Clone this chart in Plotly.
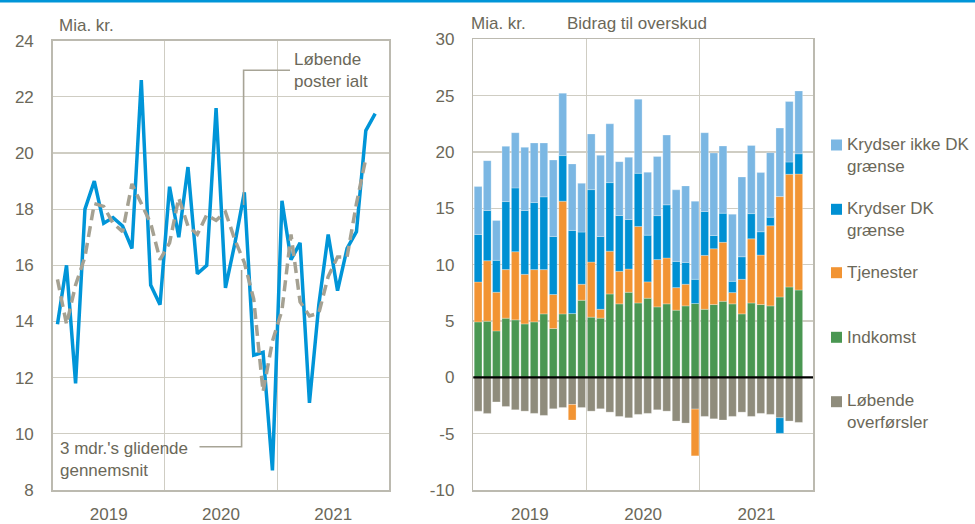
import plotly.graph_objects as go

# ---------------- data ----------------
months = ["2019-01", "2019-02", "2019-03", "2019-04", "2019-05", "2019-06",
          "2019-07", "2019-08", "2019-09", "2019-10", "2019-11", "2019-12",
          "2020-01", "2020-02", "2020-03", "2020-04", "2020-05", "2020-06",
          "2020-07", "2020-08", "2020-09", "2020-10", "2020-11", "2020-12",
          "2021-01", "2021-02", "2021-03", "2021-04", "2021-05", "2021-06",
          "2021-07", "2021-08", "2021-09", "2021-10", "2021-11"]

# Left panel: current account total and 3-month centred moving average (bn DKK)
loebende_poster_ialt = [13.9, 16.0, 11.8, 18.0, 19.0, 17.5, 17.7, 17.4, 16.6, 22.6, 15.3, 14.6,
                        18.8, 17.0, 19.5, 15.7, 16.0, 21.6, 15.2, 16.8, 18.6, 12.8, 12.9, 8.7,
                        18.3, 16.2, 16.8, 11.1, 14.6, 17.1, 15.1, 16.6, 17.2, 20.8, 21.4]
glidende_gns = [15.5, 13.9, 15.3, 16.3, 18.2, 18.1, 17.5, 17.2, 18.9, 18.2, 17.5, 16.2,
                16.8, 18.4, 17.4, 17.1, 17.8, 17.6, 17.9, 16.9, 16.1, 14.8, 11.5, 13.3,
                14.4, 17.1, 14.7, 14.2, 14.3, 15.6, 16.3, 16.3, 18.2, 19.8]

# Right panel: contributions to surplus (bn DKK)
indkomst = [4.92, 4.98, 4.12, 5.25, 5.10, 4.74, 4.92, 5.63, 4.33, 5.63, 5.66, 6.84,
            5.34, 5.25, 7.40, 6.52, 7.55, 6.60, 7.02, 6.25, 6.52, 5.96, 6.34, 6.55,
            6.04, 6.46, 6.75, 6.52, 5.63, 6.60, 6.46, 6.34, 7.13, 8.02, 7.75]
tjenester = [3.54, 5.37, 3.43, 4.31, 6.05, 4.40, 4.64, 3.93, 3.02, 10.00, -1.38, 1.42,
             4.89, 0.79, 3.80, 2.89, 2.06, 6.79, 1.45, 4.20, 4.07, 2.00, 1.92, -4.15,
             4.78, 4.95, 5.23, 1.00, 3.07, 5.69, 4.39, 7.11, 8.91, 10.00, 10.29]
krydser_dk = [4.22, 4.46, 2.83, 6.04, 5.66, 5.67, 5.95, 6.46, 5.15, 4.05, 7.38, 4.63,
              6.43, 6.46, 6.08, 4.95, 4.40, 4.72, 4.15, 3.90, 4.72, 2.33, 1.94, 2.15,
              3.90, 1.18, 2.59, 1.00, 2.00, 2.24, 2.07, 0.76, -1.38, 1.09, 1.80]
krydser_ikke_dk = [4.25, 4.42, 3.54, 4.90, 4.90, 5.60, 5.29, 4.78, 6.79, 5.54, 5.90, 4.33,
                   4.94, 7.20, 5.22, 4.78, 5.52, 6.58, 5.58, 5.25, 6.19, 6.35, 6.79, 6.93,
                   6.99, 7.32, 5.96, 5.96, 7.08, 6.05, 5.25, 5.73, 6.08, 5.37, 5.58]
loebende_overfoersler = [-3.00, -3.20, -2.18, -2.59, -2.88, -3.00, -3.20, -3.38, -2.79, -2.68, -2.41, -2.68,
                         -3.00, -2.79, -3.09, -3.47, -3.59, -3.29, -3.20, -2.88, -3.00, -3.88, -4.06, -2.82,
                         -3.47, -3.68, -3.79, -3.47, -3.09, -3.47, -3.20, -3.29, -3.59, -3.88, -4.00]

series_names = ["Krydser ikke DK<br>grænse", "Krydser DK<br>grænse", "Tjenester",
                "Indkomst", "Løbende<br>overførsler"]

# tick labels
left_ticks = [8, 10, 12, 14, 16, 18, 20, 22, 24]
right_ticks = [-10, -5, 0, 5, 10, 15, 20, 25, 30]
right_tick_labels = ["-10", "-5", "0", "5", "10", "15", "20", "25", "30"]

# ---------------- styles ----------------
W, H = 975, 524
FONT = "Liberation Sans, Arial, sans-serif"
TXT = "#6b6859"
GRID = "#cfcdc3"
FRAME = "#bcbab0"
C_LIGHT = "#7bb7e3"
C_DARK = "#0090d3"
C_ORANGE = "#f29433"
C_GREEN = "#4a9752"
C_GREY = "#8f8c7c"
C_LINE = "#0095d8"
C_DASH = "#a5a192"
colors = [C_LIGHT, C_DARK, C_ORANGE, C_GREEN, C_GREY]


def px(x):
    return x / W


def py(y):
    return 1 - y / H


fig = go.Figure()

# left panel lines
fig.add_trace(go.Scatter(x=months, y=loebende_poster_ialt, mode="lines",
                         line=dict(color=C_LINE, width=3.5),
                         xperiod="M1", xperiodalignment="middle",
                         xaxis="x", yaxis="y", showlegend=False))
fig.add_trace(go.Scatter(x=months[:len(glidende_gns)], y=glidende_gns, mode="lines",
                         line=dict(color=C_DASH, width=3.5, dash="11px,6px"),
                         xperiod="M1", xperiodalignment="middle",
                         xaxis="x", yaxis="y", showlegend=False))

# right panel bars (order so that relative stacking matches reference)
bar_series = [
    (loebende_overfoersler, C_GREY),
    (indkomst, C_GREEN),
    (tjenester, C_ORANGE),
    (krydser_dk, C_DARK),
    (krydser_ikke_dk, C_LIGHT),
]
for vals, col in bar_series:
    fig.add_trace(go.Bar(x=months, y=vals,
                         marker=dict(color=col, line=dict(color="rgba(255,255,255,0.45)", width=0.6)),
                         xperiod="M1", xperiodalignment="middle",
                         xaxis="x2", yaxis="y2", showlegend=False))

xcommon = dict(type="date", range=["2019-01-01", "2022-01-01"], dtick="M12",
               tick0="2019-01-01", ticklabelmode="period", tickformat="%Y",
               showgrid=True, gridcolor=GRID, gridwidth=1.2,
               ticks="outside", ticklen=8, tickcolor="rgba(0,0,0,0)",
               showline=True, mirror=True, linecolor=FRAME, linewidth=1.5,
               tickfont=dict(family=FONT, size=17, color=TXT), zeroline=False,
               automargin=False)
ycommon = dict(showgrid=True, gridcolor=GRID, gridwidth=1.2,
               ticks="outside", ticklen=14, tickcolor="rgba(0,0,0,0)",
               showline=True, mirror=True, linecolor=FRAME, linewidth=1.5,
               tickfont=dict(family=FONT, size=17, color=TXT), zeroline=False,
               automargin=False)

fig.update_layout(
    width=W, height=H,
    margin=dict(l=0, r=0, t=0, b=0, pad=0, autoexpand=False),
    paper_bgcolor="white", plot_bgcolor="white",
    barmode="relative", bargap=0.15,
    showlegend=False,
    font=dict(family=FONT, size=17, color=TXT),
    xaxis=dict(domain=[px(52.7), px(389.3)], anchor="y", **xcommon),
    yaxis=dict(domain=[py(490), py(40.7)], anchor="x", range=[8, 24],
               tickvals=left_ticks, **ycommon),
    xaxis2=dict(domain=[px(473.3), px(813)], anchor="y2", **xcommon),
    yaxis2=dict(domain=[py(490), py(39.3)], anchor="x2", range=[-10, 30],
                tickvals=right_ticks, ticktext=right_tick_labels, **ycommon),
)

shapes = []
# top blue rule
shapes.append(dict(type="rect", xref="paper", yref="paper", x0=0, x1=1,
                   y0=py(2.5), y1=1, fillcolor=C_LINE, line=dict(width=0), layer="above"))
# zero line right panel
shapes.append(dict(type="line", xref="x2 domain", yref="y2", x0=0, x1=1, y0=0, y1=0,
                   line=dict(color="black", width=2.2), layer="above"))
# leader lines
lead = dict(color="#a7a496", width=1.6)
shapes.append(dict(type="path", xref="paper", yref="paper",
                   path=f"M {px(290)},{py(70.3)} L {px(243.6)},{py(70.3)} L {px(243.6)},{py(205)}",
                   line=lead))
shapes.append(dict(type="path", xref="paper", yref="paper",
                   path=f"M {px(199.5)},{py(446.7)} L {px(241.6)},{py(446.7)} L {px(241.6)},{py(270)}",
                   line=lead))

annotations = []


def add_text(text, x, y, xanchor="left", yanchor="middle", size=17):
    annotations.append(dict(text=text, x=px(x), y=py(y), xref="paper", yref="paper",
                            xanchor=xanchor, yanchor=yanchor, align="left", showarrow=False,
                            font=dict(family=FONT, size=size, color=TXT), borderpad=0))


add_text("Mia. kr.", 58, 25)
add_text("Mia. kr.", 470, 24)
add_text("Bidrag til overskud", 566, 24)
add_text("Løbende<br>poster ialt", 293, 70)
add_text("3 mdr.'s glidende<br>gennemsnit", 59, 459)

# manual legend
legend_y = [145, 209.3, 272.7, 337.3, 401.7]
for name, col, yc in zip(series_names, colors, legend_y):
    shapes.append(dict(type="rect", xref="paper", yref="paper",
                       x0=px(831), x1=px(842), y0=py(yc + 5.5), y1=py(yc - 5.5),
                       fillcolor=col, line=dict(width=0)))
    if "<br>" in name:
        add_text(name, 846, yc - 11.5, yanchor="top")
    else:
        add_text(name, 846, yc, yanchor="middle")

fig.update_layout(shapes=shapes, annotations=annotations)
fig.write_html("out.html",
               config={"displayModeBar": False, "staticPlot": True},
               post_script="document.body.style.margin='0px';"
                           "document.body.style.overflow='hidden';")
